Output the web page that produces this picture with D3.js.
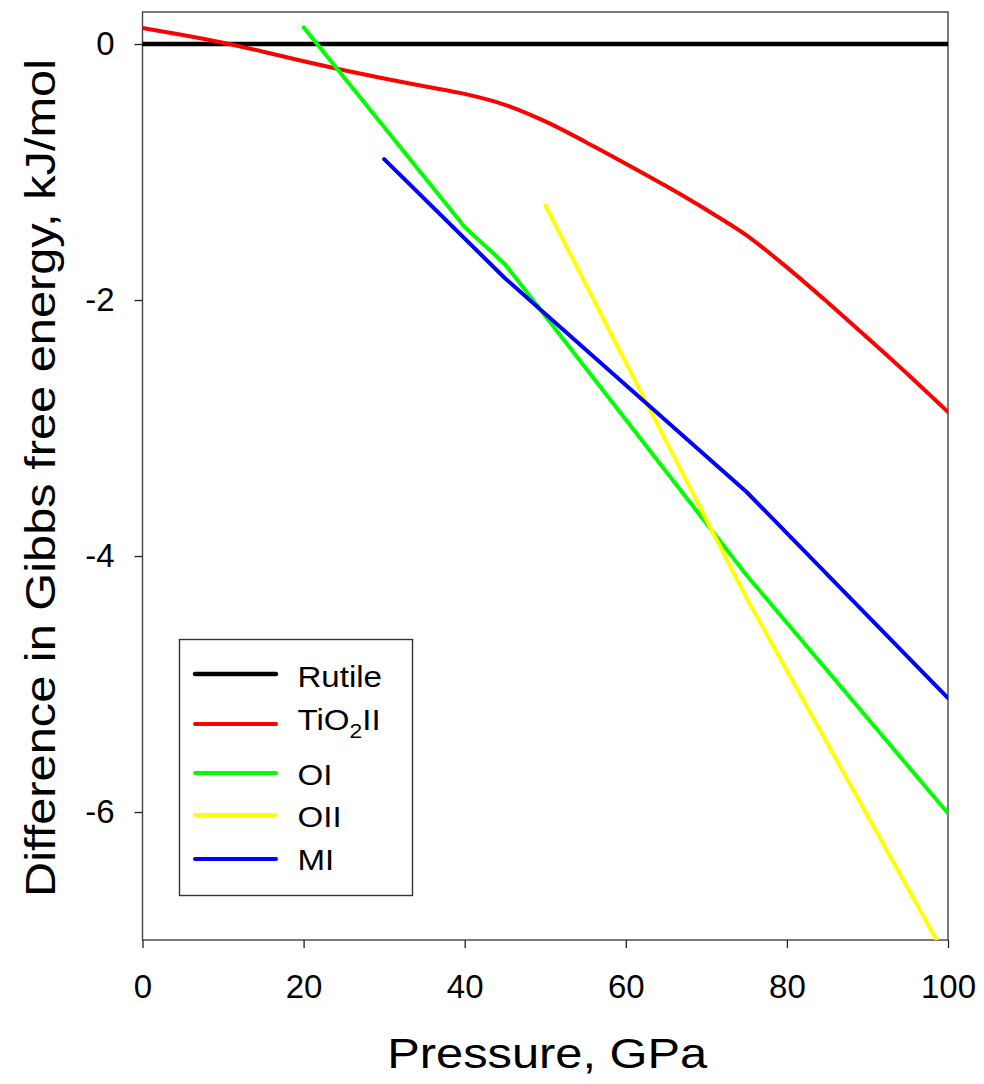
<!DOCTYPE html>
<html>
<head>
<meta charset="utf-8">
<script src="https://cdn.jsdelivr.net/npm/d3@7"></script>
<style>
  html, body { margin: 0; padding: 0; background: #fff; }
  svg { display: block; font-family: "Liberation Sans", Arial, sans-serif; }
</style>
</head>
<body>
<svg id="chart" width="984" height="1084"></svg>
<script>
// ---------- data ----------
const seriesNames = ["Rutile", "TiO2II", "OI", "OII", "MI"];
const seriesColors = ["#000000", "#ff0000", "#00ff00", "#ffff00", "#0000ff"];

const rutileP = [0, 100];
const rutileG = [0, 0];

const tio2P = [0, 5, 10, 15, 20, 25, 30, 35, 40, 45, 50, 55, 60, 65, 70, 75, 80, 85, 90, 95, 100];
const tio2G = [0.125, 0.07, 0.01, -0.06, -0.135, -0.205, -0.27, -0.33, -0.39, -0.475, -0.605, -0.765, -0.935, -1.11, -1.295, -1.495, -1.745, -2.015, -2.295, -2.58, -2.875];

const oiP = [20, 40, 45, 75, 100];
const oiG = [0.13, -1.43, -1.72, -4.15, -6.01];

const oiiP = [50, 75, 100];
const oiiG = [-1.26, -4.33, -7.16];

const miP = [30, 45, 75, 100];
const miG = [-0.90, -1.83, -3.50, -5.11];

const xTicks = [0, 20, 40, 60, 80, 100];
const yTicks = [0, -2, -4, -6];

const xLabel = "Pressure, GPa";
const yLabel = "Difference in Gibbs free energy, kJ/mol";

// ---------- layout ----------
const svg = d3.select("#chart");
const L = 142.5, R = 948, T = 12, B = 940;

const x = d3.scaleLinear().domain([0, 100]).range([L, R]);
const y = d3.scaleLinear().domain([-7, 0.25]).range([B, T]);

const series = [
  { name: seriesNames[0], color: seriesColors[0], P: rutileP, G: rutileG, w: 4.5, curve: d3.curveLinear },
  { name: seriesNames[1], color: seriesColors[1], P: tio2P, G: tio2G, w: 4, curve: d3.curveMonotoneX },
  { name: seriesNames[2], color: seriesColors[2], P: oiP, G: oiG, w: 4, curve: d3.curveLinear },
  { name: seriesNames[3], color: seriesColors[3], P: oiiP, G: oiiG, w: 4, curve: d3.curveLinear },
  { name: seriesNames[4], color: seriesColors[4], P: miP, G: miG, w: 4, curve: d3.curveLinear }
];

svg.append("defs").append("clipPath").attr("id", "plotclip")
  .append("rect").attr("x", L).attr("y", T).attr("width", R - L).attr("height", B - T);

// frame
svg.append("rect")
  .attr("x", L).attr("y", T).attr("width", R - L).attr("height", B - T)
  .attr("fill", "none").attr("stroke", "#444").attr("stroke-width", 1.4);

// axes
const yAxis = d3.axisLeft(y).tickValues(yTicks).tickSize(8).tickSizeOuter(0).tickPadding(20)
  .tickFormat(d => String(d));
const gy = svg.append("g").attr("transform", `translate(${L},0)`).call(yAxis);
gy.select(".domain").remove();
gy.selectAll(".tick line").attr("stroke", "#222").attr("stroke-width", 1.3);
gy.selectAll(".tick text").attr("font-size", 33).attr("fill", "#000")
  .attr("font-family", "'Liberation Sans', Arial, sans-serif");

const xAxis = d3.axisBottom(x).tickValues(xTicks).tickSize(8).tickSizeOuter(0).tickPadding(27)
  .tickFormat(d => String(d));
const gx = svg.append("g").attr("transform", `translate(0,${B})`).call(xAxis);
gx.select(".domain").remove();
gx.selectAll(".tick line").attr("stroke", "#222").attr("stroke-width", 1.3);
gx.selectAll(".tick text").attr("font-size", 33).attr("fill", "#000")
  .attr("font-family", "'Liberation Sans', Arial, sans-serif");

// lines
const plot = svg.append("g").attr("clip-path", "url(#plotclip)");
series.forEach(s => {
  const pts = s.P.map((p, i) => [p, s.G[i]]);
  const line = d3.line().x(d => x(d[0])).y(d => y(d[1])).curve(s.curve);
  plot.append("path").datum(pts)
    .attr("d", line)
    .attr("fill", "none")
    .attr("stroke", s.color)
    .attr("stroke-width", s.w)
    .attr("stroke-linecap", "round")
    .attr("stroke-linejoin", "round");
});

// axis titles
svg.append("text")
  .attr("x", (L + R) / 2 + 2).attr("y", 1068)
  .attr("text-anchor", "middle")
  .attr("font-size", 42)
  .attr("textLength", 320).attr("lengthAdjust", "spacingAndGlyphs")
  .attr("fill", "#000")
  .text(xLabel);

svg.append("text")
  .attr("transform", "translate(55,478) rotate(-90)")
  .attr("text-anchor", "middle")
  .attr("font-size", 42)
  .attr("textLength", 838).attr("lengthAdjust", "spacingAndGlyphs")
  .attr("fill", "#000")
  .text(yLabel);

// legend
const lgX = 179.5, lgY = 639.5, lgW = 233, lgH = 256;
const lineRows = [674, 724, 773, 815, 859];
const textRows = [686.5, 730, 785, 826.5, 870];
const lg = svg.append("g");
lg.append("rect").attr("x", lgX).attr("y", lgY).attr("width", lgW).attr("height", lgH)
  .attr("fill", "#fff").attr("stroke", "#333").attr("stroke-width", 1.4);

series.forEach((s, i) => {
  lg.append("line")
    .attr("x1", 195).attr("x2", 276)
    .attr("y1", lineRows[i]).attr("y2", lineRows[i])
    .attr("stroke", s.color).attr("stroke-width", s.w).attr("stroke-linecap", "round");
  const t = lg.append("text")
    .attr("transform", `translate(297.5,${textRows[i]}) scale(1.14,1)`)
    .attr("font-size", 29).attr("fill", "#000");
  if (s.name === "TiO2II") {
    t.append("tspan").text("TiO");
    t.append("tspan").attr("font-size", 20).attr("dy", 8).text("2");
    t.append("tspan").attr("dy", -8).text("II");
  } else {
    t.text(s.name);
  }
});
</script>
</body>
</html>
